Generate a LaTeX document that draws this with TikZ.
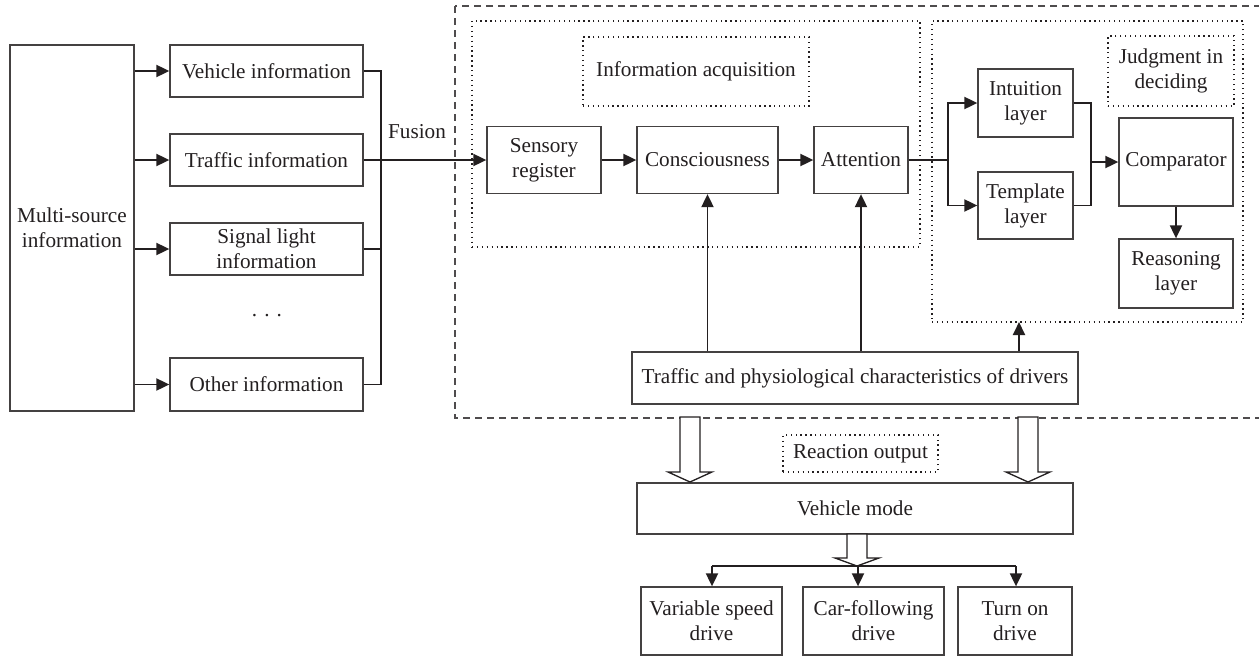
\documentclass[tikz,border=0pt]{standalone}
\usepackage{fontspec}
\setmainfont{Liberation Serif}
\usetikzlibrary{arrows.meta}
\definecolor{ink}{HTML}{231F20}
\tikzset{
  box/.style={draw=ink!85, line width=1.3pt, fill=white, align=center, inner sep=1pt, text=ink},
  dotbox/.style={draw=ink, line width=1.3pt, dash pattern=on 1.3pt off 3.6pt, align=center, inner sep=1pt, text=ink},
  dashbox/.style={draw=ink!80, line width=1.3pt, dash pattern=on 7pt off 5pt},
  arr/.style={draw=ink, line width=1.9pt, -{Triangle[length=13pt,width=12pt]}},
  ln/.style={draw=ink, line width=1.4pt},
  openarr/.style={draw=ink, line width=1.3pt, fill=white, line join=miter},
}
\newcommand\openarrow[4]{% x, top, tip, headlength
  \draw[openarr] ({#1-10},#2) -- ({#1+10},#2) -- ({#1+10},{#3-#4}) -- ({#1+22},{#3-#4}) -- (#1,#3) -- ({#1-22},{#3-#4}) -- ({#1-10},{#3-#4}) -- cycle;}
\begin{document}
\begin{tikzpicture}[x=1pt,y=-1pt,font=\fontsize{21.2}{25}\selectfont]
\useasboundingbox (0,0) rectangle (1259,656);
% containers
\draw[dashbox] (455,6) rectangle (1262,418);
\node[dotbox, minimum width=448pt, minimum height=226pt] (ia) at (696,134) {};
\node[dotbox, minimum width=311pt, minimum height=301pt] (jd) at (1087.5,171.5) {};
\node[dotbox, minimum width=226pt, minimum height=69pt] (ial) at (696,71.5) {Information acquisition};
\node[dotbox, minimum width=126pt, minimum height=70pt] (jdl) at (1171,71) {Judgment in\\deciding};
% left part
\node[box, minimum width=124pt, minimum height=366pt] (ms) at (72,228) {Multi-source\\information};
\node[box, minimum width=193pt, minimum height=52pt] (veh) at (266.5,71) {Vehicle information};
\node[box, minimum width=193pt, minimum height=52pt] (traf) at (266.5,160) {Traffic information};
\node[box, minimum width=193pt, minimum height=52pt] (sig) at (266.5,249) {Signal light\\information};
\node[box, minimum width=193pt, minimum height=53pt] (oth) at (266.5,384.5) {Other information};
\node[text=ink] (dots) at (267,316) {. . .};
\node[text=ink] (fus) at (417,132) {Fusion};
% information acquisition
\node[box, minimum width=114pt, minimum height=67pt] (sens) at (544,160) {Sensory\\register};
\node[box, minimum width=141pt, minimum height=67pt] (cons) at (707.5,160) {Consciousness};
\node[box, minimum width=94pt, minimum height=67pt, inner sep=0pt] (att) at (861,160) {Attention};
% judgment
\node[box, minimum width=95pt, minimum height=68pt] (intu) at (1025.5,103) {Intuition\\layer};
\node[box, minimum width=95pt, minimum height=67pt] (temp) at (1025.5,205.5) {Template\\layer};
\node[box, minimum width=114pt, minimum height=88pt, inner sep=0pt] (comp) at (1176,162) {Comparator};
\node[box, minimum width=114pt, minimum height=69pt] (reas) at (1176,273.5) {Reasoning\\layer};
% drivers
\node[box, minimum width=446pt, minimum height=52pt] (tp) at (855,378) {Traffic and physiological characteristics of drivers};
% output
\node[dotbox, minimum width=155pt, minimum height=37pt] (ro) at (860.5,453.5) {Reaction output};
\node[box, minimum width=436pt, minimum height=51pt] (vm) at (855,508.5) {Vehicle mode};
\node[box, minimum width=141pt, minimum height=68pt] (vs) at (711.5,621) {Variable speed\\drive};
\node[box, minimum width=141pt, minimum height=68pt] (cf) at (873.5,621) {Car-following\\drive};
\node[box, minimum width=114pt, minimum height=68pt] (to) at (1015,621) {Turn on\\drive};
% left connectors
\foreach \n in {veh,traf,sig,oth} \draw[arr] (ms.east |- \n.west) -- (\n.west);
\coordinate (bt) at (381,71);
\coordinate (bb) at (381,384.5);
\draw[ln] (veh.east) -- (bt) -- (bb) -- (oth.east);
\draw[ln] (sig.east) -- (sig.east -| bt);
\draw[arr] (traf.east) -- (sens.west);
% acquisition chain
\draw[arr] (sens.east) -- (cons.west);
\draw[arr] (cons.east) -- (att.west);
\coordinate (br) at (948,160);
\draw[ln] (att.east) -- (br);
\draw[arr] (br) |- (intu.west);
\draw[arr] (br) |- (temp.west);
\coordinate (mg) at (1091,162);
\draw[ln] (intu.east) -| (mg);
\draw[ln] (temp.east) -| (mg);
\draw[arr] (mg) -- (comp.west);
\draw[arr] (comp.south) -- (reas.north);
% driver characteristics
\draw[arr] (tp.north -| cons.south) -- (cons.south);
\draw[arr] (tp.north -| att.south) -- (att.south);
\coordinate (jb) at (1019,322);
\draw[arr] (tp.north -| jb) -- (jb);
% open arrows
\openarrow{690}{417}{482}{10}
\openarrow{1028}{417}{482}{10}
\openarrow{857}{534}{566}{8}
% drive branches
\coordinate (hl) at (712,566);
\coordinate (hm) at (858,566);
\coordinate (hr) at (1016,566);
\draw[ln] (hl) -- (hr);
\draw[arr] (hl) -- (hl |- vs.north);
\draw[arr] (hm) -- (hm |- cf.north);
\draw[arr] (hr) -- (hr |- to.north);
\end{tikzpicture}
\end{document}
